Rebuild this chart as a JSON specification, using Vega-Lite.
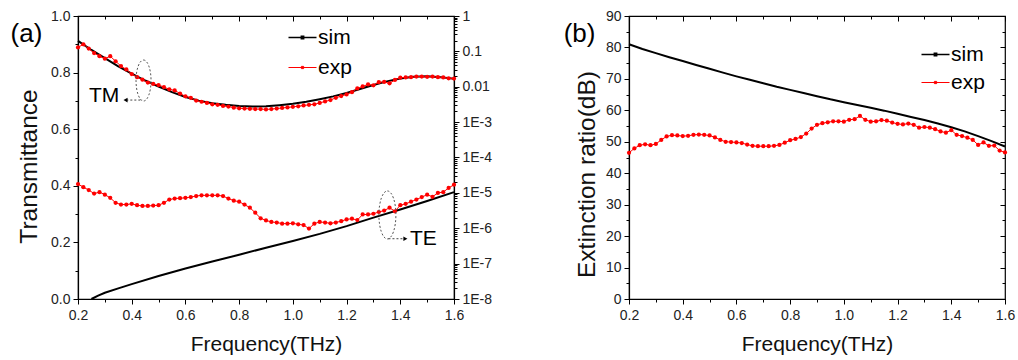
{
  "$schema": "https://vega.github.io/schema/vega-lite/v6.json",
  "padding": {"left": 9, "top": 8, "right": 2, "bottom": 4},
  "background": "white",
  "bounds": "flush",
  "spacing": 175,
  "datasets": {
    "tm_sim": [
      {"f":0.20,"v":0.912},{"f":0.25,"v":0.880},{"f":0.30,"v":0.851},{"f":0.35,"v":0.822},{"f":0.40,"v":0.796},
      {"f":0.45,"v":0.772},{"f":0.50,"v":0.751},{"f":0.55,"v":0.731},{"f":0.60,"v":0.714},{"f":0.65,"v":0.701},
      {"f":0.70,"v":0.692},{"f":0.75,"v":0.686},{"f":0.80,"v":0.682},{"f":0.85,"v":0.680},{"f":0.90,"v":0.681},
      {"f":0.95,"v":0.685},{"f":1.00,"v":0.690},{"f":1.05,"v":0.697},{"f":1.10,"v":0.706},{"f":1.15,"v":0.716},
      {"f":1.20,"v":0.728},{"f":1.25,"v":0.742},{"f":1.30,"v":0.756},{"f":1.35,"v":0.769},{"f":1.40,"v":0.779},
      {"f":1.45,"v":0.785},{"f":1.50,"v":0.787},{"f":1.55,"v":0.784},{"f":1.60,"v":0.778}
    ],
    "tm_exp": [
      {"f":0.20,"v":0.889},{"f":0.22,"v":0.900},{"f":0.24,"v":0.885},{"f":0.26,"v":0.869},{"f":0.28,"v":0.858},
      {"f":0.30,"v":0.849},{"f":0.32,"v":0.858},{"f":0.34,"v":0.840},{"f":0.36,"v":0.823},{"f":0.38,"v":0.811},
      {"f":0.40,"v":0.795},{"f":0.42,"v":0.784},{"f":0.44,"v":0.775},{"f":0.46,"v":0.765},{"f":0.48,"v":0.760},
      {"f":0.50,"v":0.756},{"f":0.52,"v":0.749},{"f":0.54,"v":0.741},{"f":0.56,"v":0.737},{"f":0.58,"v":0.726},
      {"f":0.60,"v":0.716},{"f":0.62,"v":0.711},{"f":0.64,"v":0.701},{"f":0.66,"v":0.697},{"f":0.68,"v":0.693},
      {"f":0.70,"v":0.688},{"f":0.72,"v":0.686},{"f":0.74,"v":0.682},{"f":0.76,"v":0.680},{"f":0.78,"v":0.676},
      {"f":0.80,"v":0.674},{"f":0.82,"v":0.673},{"f":0.84,"v":0.672},{"f":0.86,"v":0.671},{"f":0.88,"v":0.671},
      {"f":0.90,"v":0.670},{"f":0.92,"v":0.671},{"f":0.94,"v":0.673},{"f":0.96,"v":0.675},{"f":0.98,"v":0.677},
      {"f":1.00,"v":0.679},{"f":1.02,"v":0.681},{"f":1.04,"v":0.684},{"f":1.06,"v":0.686},{"f":1.08,"v":0.688},
      {"f":1.10,"v":0.693},{"f":1.12,"v":0.698},{"f":1.14,"v":0.703},{"f":1.16,"v":0.711},{"f":1.18,"v":0.717},
      {"f":1.20,"v":0.723},{"f":1.22,"v":0.731},{"f":1.24,"v":0.744},{"f":1.26,"v":0.751},{"f":1.28,"v":0.758},
      {"f":1.30,"v":0.755},{"f":1.32,"v":0.766},{"f":1.34,"v":0.767},{"f":1.36,"v":0.762},{"f":1.38,"v":0.774},
      {"f":1.40,"v":0.782},{"f":1.42,"v":0.783},{"f":1.44,"v":0.784},{"f":1.46,"v":0.786},{"f":1.48,"v":0.786},
      {"f":1.50,"v":0.785},{"f":1.52,"v":0.786},{"f":1.54,"v":0.784},{"f":1.56,"v":0.783},{"f":1.58,"v":0.780},
      {"f":1.60,"v":0.779}
    ],
    "te_sim": [
      {"f":0.25,"v":1.0e-8},{"f":0.275,"v":1.24e-8},{"f":0.30,"v":1.50e-8},{"f":0.35,"v":2.0e-8},{"f":0.40,"v":2.63e-8},
      {"f":0.50,"v":4.47e-8},{"f":0.60,"v":7.24e-8},{"f":0.70,"v":1.15e-7},{"f":0.80,"v":1.78e-7},{"f":0.90,"v":2.82e-7},
      {"f":1.00,"v":4.37e-7},{"f":1.10,"v":6.92e-7},{"f":1.20,"v":1.15e-6},{"f":1.30,"v":2.0e-6},{"f":1.40,"v":3.39e-6},
      {"f":1.50,"v":5.89e-6},{"f":1.60,"v":1.05e-5}
    ],
    "te_exp": [
      {"f":0.20,"v":1.78e-5},{"f":0.22,"v":1.45e-5},{"f":0.24,"v":1.2e-5},{"f":0.26,"v":9.55e-6},{"f":0.28,"v":1.05e-5},
      {"f":0.30,"v":8.91e-6},{"f":0.32,"v":7.24e-6},{"f":0.34,"v":5.25e-6},{"f":0.36,"v":4.68e-6},{"f":0.38,"v":4.68e-6},
      {"f":0.40,"v":4.90e-6},{"f":0.42,"v":4.47e-6},{"f":0.44,"v":4.27e-6},{"f":0.46,"v":4.27e-6},{"f":0.48,"v":4.37e-6},
      {"f":0.50,"v":4.47e-6},{"f":0.52,"v":5.25e-6},{"f":0.54,"v":6.46e-6},{"f":0.56,"v":6.92e-6},{"f":0.58,"v":7.08e-6},
      {"f":0.60,"v":7.24e-6},{"f":0.62,"v":7.59e-6},{"f":0.64,"v":8.13e-6},{"f":0.66,"v":8.51e-6},{"f":0.68,"v":8.51e-6},
      {"f":0.70,"v":8.51e-6},{"f":0.72,"v":8.51e-6},{"f":0.74,"v":8.13e-6},{"f":0.76,"v":6.92e-6},{"f":0.78,"v":6.03e-6},
      {"f":0.80,"v":5.62e-6},{"f":0.82,"v":4.68e-6},{"f":0.84,"v":3.80e-6},{"f":0.86,"v":2.75e-6},{"f":0.88,"v":1.91e-6},
      {"f":0.90,"v":1.66e-6},{"f":0.92,"v":1.51e-6},{"f":0.94,"v":1.45e-6},{"f":0.96,"v":1.35e-6},{"f":0.98,"v":1.35e-6},
      {"f":1.00,"v":1.38e-6},{"f":1.02,"v":1.29e-6},{"f":1.04,"v":1.23e-6},{"f":1.06,"v":9.77e-7},{"f":1.08,"v":1.35e-6},
      {"f":1.10,"v":1.51e-6},{"f":1.12,"v":1.45e-6},{"f":1.14,"v":1.38e-6},{"f":1.16,"v":1.45e-6},{"f":1.18,"v":1.59e-6},
      {"f":1.20,"v":1.78e-6},{"f":1.22,"v":1.86e-6},{"f":1.24,"v":1.70e-6},{"f":1.26,"v":2.45e-6},{"f":1.28,"v":2.45e-6},
      {"f":1.30,"v":2.57e-6},{"f":1.32,"v":2.88e-6},{"f":1.34,"v":3.16e-6},{"f":1.36,"v":3.80e-6},{"f":1.38,"v":3.02e-6},
      {"f":1.40,"v":4.47e-6},{"f":1.42,"v":4.90e-6},{"f":1.44,"v":5.62e-6},{"f":1.46,"v":6.46e-6},{"f":1.48,"v":7.59e-6},
      {"f":1.50,"v":8.91e-6},{"f":1.52,"v":7.76e-6},{"f":1.54,"v":1.0e-5},{"f":1.56,"v":1.05e-5},{"f":1.58,"v":1.38e-5},
      {"f":1.60,"v":1.70e-5}
    ],
    "er_sim": [
      {"f":0.20,"v":81.0},{"f":0.25,"v":79.5},{"f":0.30,"v":78.2},{"f":0.35,"v":76.9},{"f":0.40,"v":75.7},
      {"f":0.45,"v":74.4},{"f":0.50,"v":73.2},{"f":0.55,"v":72.0},{"f":0.60,"v":70.8},{"f":0.65,"v":69.7},
      {"f":0.70,"v":68.6},{"f":0.75,"v":67.5},{"f":0.80,"v":66.5},{"f":0.85,"v":65.5},{"f":0.90,"v":64.5},
      {"f":0.95,"v":63.5},{"f":1.00,"v":62.6},{"f":1.05,"v":61.7},{"f":1.10,"v":60.8},{"f":1.15,"v":59.9},
      {"f":1.20,"v":58.9},{"f":1.25,"v":57.9},{"f":1.30,"v":56.9},{"f":1.35,"v":55.8},{"f":1.40,"v":54.6},
      {"f":1.45,"v":53.3},{"f":1.50,"v":51.8},{"f":1.55,"v":50.2},{"f":1.60,"v":48.5}
    ],
    "er_exp": [
      {"f":0.20,"v":46.5},{"f":0.22,"v":47.9},{"f":0.24,"v":48.9},{"f":0.26,"v":49.2},{"f":0.28,"v":48.9},
      {"f":0.30,"v":49.3},{"f":0.32,"v":50.6},{"f":0.34,"v":51.7},{"f":0.36,"v":52.1},{"f":0.38,"v":52.0},
      {"f":0.40,"v":51.8},{"f":0.42,"v":51.9},{"f":0.44,"v":52.2},{"f":0.46,"v":52.3},{"f":0.48,"v":52.2},
      {"f":0.50,"v":52.0},{"f":0.52,"v":51.4},{"f":0.54,"v":50.6},{"f":0.56,"v":50.0},{"f":0.58,"v":49.9},
      {"f":0.60,"v":49.8},{"f":0.62,"v":49.6},{"f":0.64,"v":49.1},{"f":0.66,"v":48.7},{"f":0.68,"v":48.6},
      {"f":0.70,"v":48.6},{"f":0.72,"v":48.6},{"f":0.74,"v":48.7},{"f":0.76,"v":49.0},{"f":0.78,"v":49.7},
      {"f":0.80,"v":50.5},{"f":0.82,"v":50.9},{"f":0.84,"v":51.5},{"f":0.86,"v":52.6},{"f":0.88,"v":54.2},
      {"f":0.90,"v":55.4},{"f":0.92,"v":55.9},{"f":0.94,"v":56.2},{"f":0.96,"v":56.5},{"f":0.98,"v":56.5},
      {"f":1.00,"v":56.4},{"f":1.02,"v":57.0},{"f":1.04,"v":57.2},{"f":1.06,"v":58.2},{"f":1.08,"v":57.0},
      {"f":1.10,"v":56.4},{"f":1.12,"v":56.5},{"f":1.14,"v":56.9},{"f":1.16,"v":56.7},{"f":1.18,"v":56.1},
      {"f":1.20,"v":55.7},{"f":1.22,"v":55.5},{"f":1.24,"v":55.8},{"f":1.26,"v":55.4},{"f":1.28,"v":54.5},
      {"f":1.30,"v":54.7},{"f":1.32,"v":54.5},{"f":1.34,"v":54.0},{"f":1.36,"v":53.3},{"f":1.38,"v":52.9},
      {"f":1.40,"v":53.7},{"f":1.42,"v":52.2},{"f":1.44,"v":51.8},{"f":1.46,"v":51.3},{"f":1.48,"v":50.6},
      {"f":1.50,"v":49.0},{"f":1.52,"v":49.8},{"f":1.54,"v":48.7},{"f":1.56,"v":48.8},{"f":1.58,"v":47.2},
      {"f":1.60,"v":46.6}
    ]
  },
  "hconcat": [
    {
      "width": 376,
      "height": 283,
      "layer": [
        {
          "data": {"name": "tm_sim"},
          "mark": {"type": "line", "strokeWidth": 2},
          "encoding": {
            "x": {"field": "f", "type": "quantitative", "scale": {"domain": [0.2, 1.6], "nice": false, "zero": false},
              "axis": {"values": [0.2,0.3,0.4,0.5,0.6,0.7,0.8,0.9,1.0,1.1,1.2,1.3,1.4,1.5,1.6],
                "labelExpr": "round(datum.value*10)%2==0 ? format(datum.value,'.1f') : ''",
                "tickSize": {"condition": {"test": "round(datum.value*10)%2==0", "value": 5}, "value": 3},
                "title": "Frequency(THz)", "titlePadding": 11, "labelPadding": 4, "labelOverlap": false, "labelFlush": false}},
            "y": {"field": "v", "type": "quantitative", "scale": {"domain": [0, 1], "nice": false, "zero": false},
              "axis": {"values": [0,0.1,0.2,0.3,0.4,0.5,0.6,0.7,0.8,0.9,1.0],
                "labelExpr": "round(datum.value*10)%2==0 ? format(datum.value,'.1f') : ''",
                "tickSize": {"condition": {"test": "round(datum.value*10)%2==0", "value": 5}, "value": 3},
                "title": "Transmittance", "titleFontSize": 24.5, "titleY": 150, "titlePadding": 9, "labelPadding": 3, "labelOverlap": false}},
            "color": {"datum": "sim", "type": "nominal",
              "scale": {"domain": ["sim", "exp"], "range": ["#000000", "#ff0000"]},
              "legend": {"orient": "none", "legendX": 214, "legendY": 11, "title": null,
                "symbolType": "M-1,0H1M-0.08,-0.08H0.08V0.08H-0.08Z", "symbolSize": 784, "symbolStrokeWidth": 1.5,
                "labelFontSize": 21, "labelOffset": 5, "rowPadding": 8, "padding": 0, "labelColor": "#000",
                "encode": {"symbols": {"update": {
                  "fill": {"signal": "datum.value === 'exp' ? '#ff0000' : '#000000'"},
                  "stroke": {"signal": "datum.value === 'exp' ? '#ff0000' : '#000000'"},
                  "strokeWidth": {"signal": "datum.value === 'exp' ? 1 : 1.6"}}}}}}
          }
        },
        {
          "data": {"name": "tm_exp"},
          "mark": {"type": "line", "strokeWidth": 1},
          "encoding": {
            "x": {"field": "f", "type": "quantitative",
              "axis": {"orient": "top", "values": [0.2,0.3,0.4,0.5,0.6,0.7,0.8,0.9,1.0,1.1,1.2,1.3,1.4,1.5,1.6],
                "labels": false, "domain": false, "title": null,
                "tickSize": {"condition": {"test": "round(datum.value*10)%2==0", "value": -5}, "value": -3}}},
            "y": {"field": "v", "type": "quantitative", "scale": {"domain": [0, 1], "nice": false, "zero": false}, "axis": null},
            "color": {"datum": "exp", "type": "nominal"}
          }
        },
        {
          "data": {"name": "tm_exp"},
          "mark": {"type": "point", "filled": true, "size": 18, "opacity": 1},
          "encoding": {
            "x": {"field": "f", "type": "quantitative", "axis": null},
            "y": {"field": "v", "type": "quantitative", "scale": {"domain": [0, 1], "nice": false, "zero": false}, "axis": null},
            "color": {"datum": "exp", "type": "nominal"}
          }
        },
        {
          "data": {"name": "te_sim"},
          "mark": {"type": "line", "strokeWidth": 2},
          "encoding": {
            "x": {"field": "f", "type": "quantitative", "axis": null},
            "y": {"field": "v", "type": "quantitative", "scale": {"type": "log", "domain": [1e-8, 1], "nice": false},
              "axis": {"orient": "right",
                "values": [1,0.9,0.8,0.7,0.6,0.5,0.4,0.3,0.2,0.1,0.09,0.08,0.07,0.06,0.05,0.04,0.03,0.02,0.01,
                  0.009,0.008,0.007,0.006,0.005,0.004,0.003,0.002,0.001,
                  9e-4,8e-4,7e-4,6e-4,5e-4,4e-4,3e-4,2e-4,1e-4,
                  9e-5,8e-5,7e-5,6e-5,5e-5,4e-5,3e-5,2e-5,1e-5,
                  9e-6,8e-6,7e-6,6e-6,5e-6,4e-6,3e-6,2e-6,1e-6,
                  9e-7,8e-7,7e-7,6e-7,5e-7,4e-7,3e-7,2e-7,1e-7,
                  9e-8,8e-8,7e-8,6e-8,5e-8,4e-8,3e-8,2e-8,1e-8],
                "labelExpr": "abs(log(datum.value)/LN10 - round(log(datum.value)/LN10)) < 0.001 ? (datum.value >= 0.01 ? toString(datum.value) : '1E' + round(log(datum.value)/LN10)) : ''",
                "tickSize": {"condition": {"test": "abs(log(datum.value)/LN10 - round(log(datum.value)/LN10)) < 0.001", "value": 5}, "value": 3},
                "title": null, "labelPadding": 3, "labelOverlap": false, "labelFlush": false}},
            "color": {"datum": "sim", "type": "nominal"}
          }
        },
        {
          "data": {"name": "te_exp"},
          "mark": {"type": "line", "strokeWidth": 1},
          "encoding": {
            "x": {"field": "f", "type": "quantitative", "axis": null},
            "y": {"field": "v", "type": "quantitative", "scale": {"type": "log", "domain": [1e-8, 1], "nice": false}, "axis": null},
            "color": {"datum": "exp", "type": "nominal"}
          }
        },
        {
          "data": {"name": "te_exp"},
          "mark": {"type": "point", "filled": true, "size": 18, "opacity": 1},
          "encoding": {
            "x": {"field": "f", "type": "quantitative", "axis": null},
            "y": {"field": "v", "type": "quantitative", "scale": {"type": "log", "domain": [1e-8, 1], "nice": false}, "axis": null},
            "color": {"datum": "exp", "type": "nominal"}
          }
        },
        {
          "data": {"values": [{}]},
          "mark": {"type": "point", "shape": "M0,-1A0.366,1 0 1,1 0,1A0.366,1 0 1,1 0,-1Z", "size": 1681, "filled": false, "stroke": "#555", "strokeWidth": 1, "strokeDash": [2, 2], "opacity": 1},
          "encoding": {
            "x": {"datum": 0.444, "type": "quantitative", "axis": null},
            "y": {"datum": 0.772, "type": "quantitative", "scale": {"domain": [0, 1], "nice": false, "zero": false}, "axis": null}
          }
        },
        {
          "data": {"values": [{}]},
          "mark": {"type": "point", "shape": "M0,-1A0.354,1 0 1,1 0,1A0.354,1 0 1,1 0,-1Z", "size": 2304, "filled": false, "stroke": "#555", "strokeWidth": 1, "strokeDash": [2, 2], "opacity": 1},
          "encoding": {
            "x": {"datum": 1.352, "type": "quantitative", "axis": null},
            "y": {"datum": 0.297, "type": "quantitative", "scale": {"domain": [0, 1], "nice": false, "zero": false}, "axis": null}
          }
        },
        {
          "data": {"values": [{}]},
          "mark": {"type": "rule", "stroke": "#444", "strokeWidth": 1, "strokeDash": [2, 2]},
          "encoding": {
            "x": {"datum": 0.38, "type": "quantitative", "axis": null},
            "x2": {"datum": 0.44},
            "y": {"datum": 0.703, "type": "quantitative", "scale": {"domain": [0, 1], "nice": false, "zero": false}, "axis": null}
          }
        },
        {
          "data": {"values": [{}]},
          "mark": {"type": "point", "shape": "triangle-left", "size": 22, "filled": true, "color": "#000", "opacity": 1},
          "encoding": {
            "x": {"datum": 0.377, "type": "quantitative", "axis": null},
            "y": {"datum": 0.703, "type": "quantitative", "scale": {"domain": [0, 1], "nice": false, "zero": false}, "axis": null}
          }
        },
        {
          "data": {"values": [{}]},
          "mark": {"type": "rule", "stroke": "#444", "strokeWidth": 1, "strokeDash": [2, 2]},
          "encoding": {
            "x": {"datum": 1.356, "type": "quantitative", "axis": null},
            "x2": {"datum": 1.415},
            "y": {"datum": 0.213, "type": "quantitative", "scale": {"domain": [0, 1], "nice": false, "zero": false}, "axis": null}
          }
        },
        {
          "data": {"values": [{}]},
          "mark": {"type": "point", "shape": "triangle-right", "size": 22, "filled": true, "color": "#000", "opacity": 1},
          "encoding": {
            "x": {"datum": 1.419, "type": "quantitative", "axis": null},
            "y": {"datum": 0.213, "type": "quantitative", "scale": {"domain": [0, 1], "nice": false, "zero": false}, "axis": null}
          }
        },
        {
          "data": {"values": [{}]},
          "mark": {"type": "text", "fontSize": 21, "align": "center", "baseline": "middle", "color": "#000"},
          "encoding": {
            "x": {"datum": 0.297, "type": "quantitative", "axis": null},
            "y": {"datum": 0.717, "type": "quantitative", "scale": {"domain": [0, 1], "nice": false, "zero": false}, "axis": null},
            "text": {"value": "TM"}
          }
        },
        {
          "data": {"values": [{}]},
          "mark": {"type": "text", "fontSize": 21, "align": "center", "baseline": "middle", "color": "#000"},
          "encoding": {
            "x": {"datum": 1.486, "type": "quantitative", "axis": null},
            "y": {"datum": 0.212, "type": "quantitative", "scale": {"domain": [0, 1], "nice": false, "zero": false}, "axis": null},
            "text": {"value": "TE"}
          }
        },
        {
          "data": {"values": [{}]},
          "mark": {"type": "text", "fontSize": 26, "align": "center", "baseline": "middle", "color": "#000"},
          "encoding": {
            "x": {"datum": 0.008, "type": "quantitative", "axis": null},
            "y": {"datum": 0.936, "type": "quantitative", "scale": {"domain": [0, 1], "nice": false, "zero": false}, "axis": null},
            "text": {"value": "(a)"}
          }
        }
      ],
      "resolve": {"scale": {"y": "independent"}, "axis": {"x": "independent", "y": "independent"}}
    },
    {
      "width": 376,
      "height": 283,
      "layer": [
        {
          "data": {"name": "er_sim"},
          "mark": {"type": "line", "strokeWidth": 2},
          "encoding": {
            "x": {"field": "f", "type": "quantitative", "scale": {"domain": [0.2, 1.6], "nice": false, "zero": false},
              "axis": {"values": [0.2,0.3,0.4,0.5,0.6,0.7,0.8,0.9,1.0,1.1,1.2,1.3,1.4,1.5,1.6],
                "labelExpr": "round(datum.value*10)%2==0 ? format(datum.value,'.1f') : ''",
                "tickSize": {"condition": {"test": "round(datum.value*10)%2==0", "value": 5}, "value": 3},
                "title": "Frequency(THz)", "titlePadding": 11, "labelPadding": 4, "labelOverlap": false, "labelFlush": false}},
            "y": {"field": "v", "type": "quantitative", "scale": {"domain": [0, 90], "nice": false, "zero": false},
              "axis": {"values": [0,5,10,15,20,25,30,35,40,45,50,55,60,65,70,75,80,85,90],
                "labelExpr": "datum.value % 10 == 0 ? format(datum.value,'d') : ''",
                "tickSize": {"condition": {"test": "datum.value % 10 == 0", "value": 5}, "value": 3},
                "title": "Extinction ratio(dB)", "titleFontSize": 24.5, "titleY": 158, "titlePadding": 6, "labelPadding": 3, "labelOverlap": false}},
            "color": {"datum": "sim", "type": "nominal",
              "legend": {"orient": "none", "legendX": 296, "legendY": 28, "title": null,
                "symbolType": "M-1,0H1M-0.08,-0.08H0.08V0.08H-0.08Z", "symbolSize": 784, "symbolStrokeWidth": 1.5,
                "labelFontSize": 21, "labelOffset": 5, "rowPadding": 6, "padding": 0, "labelColor": "#000",
                "encode": {"symbols": {"update": {
                  "fill": {"signal": "datum.value === 'exp' ? '#ff0000' : '#000000'"},
                  "stroke": {"signal": "datum.value === 'exp' ? '#ff0000' : '#000000'"},
                  "strokeWidth": {"signal": "datum.value === 'exp' ? 1 : 1.6"}}}}}}
          }
        },
        {
          "data": {"name": "er_exp"},
          "mark": {"type": "line", "strokeWidth": 1},
          "encoding": {
            "x": {"field": "f", "type": "quantitative",
              "axis": {"orient": "top", "values": [0.2,0.3,0.4,0.5,0.6,0.7,0.8,0.9,1.0,1.1,1.2,1.3,1.4,1.5,1.6],
                "labels": false, "domain": false, "title": null,
                "tickSize": {"condition": {"test": "round(datum.value*10)%2==0", "value": -5}, "value": -3}}},
            "y": {"field": "v", "type": "quantitative",
              "axis": {"orient": "right", "values": [0,5,10,15,20,25,30,35,40,45,50,55,60,65,70,75,80,85,90],
                "labels": false, "domain": false, "title": null,
                "tickSize": {"condition": {"test": "datum.value % 10 == 0", "value": -5}, "value": -3}}},
            "color": {"datum": "exp", "type": "nominal"}
          }
        },
        {
          "data": {"name": "er_exp"},
          "mark": {"type": "point", "filled": true, "size": 18, "opacity": 1},
          "encoding": {
            "x": {"field": "f", "type": "quantitative", "axis": null},
            "y": {"field": "v", "type": "quantitative", "axis": null},
            "color": {"datum": "exp", "type": "nominal"}
          }
        },
        {
          "data": {"values": [{}]},
          "mark": {"type": "text", "fontSize": 26, "align": "center", "baseline": "middle", "color": "#000"},
          "encoding": {
            "x": {"datum": 0.016, "type": "quantitative", "axis": null},
            "y": {"datum": 84.3, "type": "quantitative", "axis": null},
            "text": {"value": "(b)"}
          }
        }
      ],
      "resolve": {"axis": {"x": "independent", "y": "independent"}}
    }
  ],
  "resolve": {"legend": {"color": "independent"}},
  "config": {
    "font": "Liberation Sans",
    "view": {"stroke": "#000", "strokeWidth": 1.2},
    "axis": {"grid": false, "domainColor": "#000", "domainWidth": 1.2, "tickColor": "#000", "tickWidth": 1,
      "labelColor": "#222", "labelFontSize": 14, "labelFont": "Liberation Sans",
      "titleFontSize": 21, "titleFontWeight": "normal", "titleColor": "#111", "titleFont": "Liberation Sans"},
    "legend": {"labelFont": "Liberation Sans"}
  }
}
